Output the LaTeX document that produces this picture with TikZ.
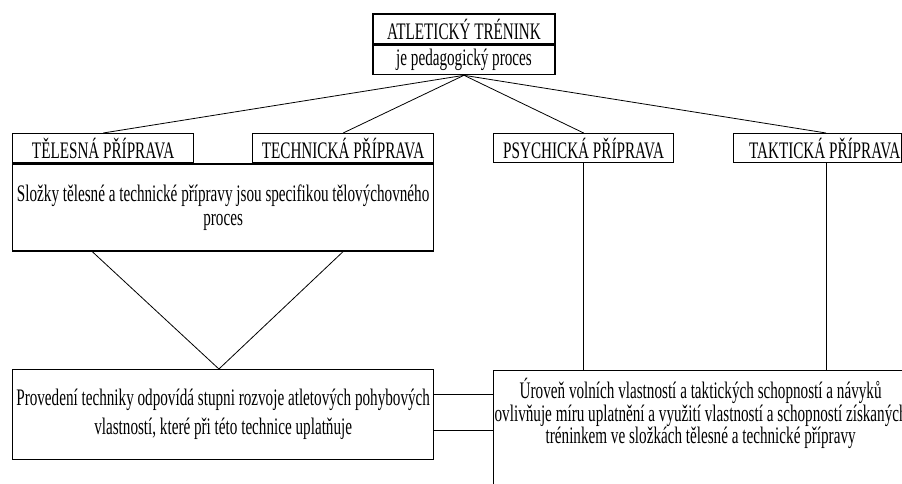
\documentclass[tikz,border=0pt]{standalone}
\usepackage{fontspec}
\setmainfont{Liberation Serif}[FakeStretch=0.64]
\usetikzlibrary{positioning,calc}

\begin{document}
\begin{tikzpicture}[x=1pt,y=-1pt,
  every node/.style={inner sep=0pt,font=\fontsize{23.7}{21}\selectfont},
  box/.style={draw,line width=1.3pt,anchor=north west,minimum height=29pt},
  headbox/.style={box,line width=2pt,minimum width=182pt,minimum height=30pt},
  partbox/.style={box,minimum width=181pt},
  textbox/.style={box,minimum width=421pt,align=center},
  conn/.style={line width=0.8pt}]
  \useasboundingbox (0,0) rectangle (902,483);
  \clip (0,0) rectangle (902,483);
  % top
  \node[headbox] (title) at (372,13) {ATLETICKÝ TRÉNINK};
  \node[box,minimum width=182pt,below=0pt of title] (proces) {je pedagogický proces};
  % four parts
  \node[partbox] (tel) at (12,133) {TĚLESNÁ PŘÍPRAVA};
  \node[partbox] (tech) at (252,133) {TECHNICKÁ PŘÍPRAVA};
  \node[partbox,minimum width=180pt] (psy) at (493,133) {PSYCHICKÁ PŘÍPRAVA};
  \node[box,minimum width=168pt] (takt) at (733,133) {\hspace*{14pt}TAKTICKÁ PŘÍPRAVA};
  \node[textbox,minimum height=87pt,font=\fontsize{23.7}{24}\selectfont,below=0pt of tel.south west,anchor=north west] (slozky)
    {Složky tělesné a technické přípravy jsou specifikou tělovýchovného\\proces};
  % bottom
  \node[textbox,minimum height=90pt,font=\fontsize{23.7}{29}\selectfont] (prov) at (12,369)
    {Provedení techniky odpovídá stupni rozvoje atletových pohybových\\vlastností, které při této technice uplatňuje};
  \node[box,minimum width=414pt,minimum height=140pt] (uro) at (493,370) {};
  \node[align=center,below=8pt of uro.north,anchor=north] (urotext)
    {Úroveň volních vlastností a taktických schopností a návyků\\
     ovlivňuje míru uplatnění a využití vlastností a schopností získaných\\
     tréninkem ve složkách tělesné a technické přípravy};
  % connectors
  \draw[conn] (proces.south) -- (tel.north);
  \draw[conn] (proces.south) -- (tech.north);
  \draw[conn] (proces.south) -- (psy.north);
  \draw[conn] (proces.south) -- ($(takt.north west)!0.55!(takt.north east)$);
  \draw[conn] ($(slozky.south west)!0.19!(slozky.south east)$) -- ($(prov.north west)!0.49!(prov.north east)$);
  \draw[conn] ($(slozky.south west)!0.784!(slozky.south east)$) -- ($(prov.north west)!0.49!(prov.north east)$);
  \draw[conn] (psy.south) -- (psy.south |- uro.north);
  \draw[conn] ($(takt.south west)!0.55!(takt.south east)$) coordinate (tk) -- (tk |- uro.north);
  \draw[conn] ($(prov.north east)!0.28!(prov.south east)$) coordinate (p1) -- (p1 -| uro.west);
  \draw[conn] ($(prov.north east)!0.67!(prov.south east)$) coordinate (p2) -- (p2 -| uro.west);
\end{tikzpicture}
\end{document}
